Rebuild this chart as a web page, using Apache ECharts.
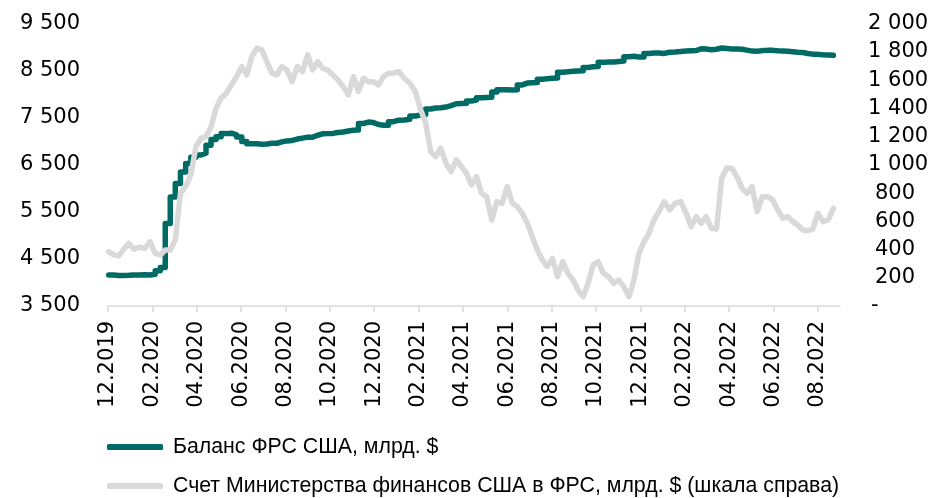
<!DOCTYPE html>
<html>
<head>
<meta charset="utf-8">
<script src="https://cdn.jsdelivr.net/npm/echarts@6/dist/echarts.min.js"></script>
<style>
html,body{margin:0;padding:0;background:#fff;}
#c{width:933px;height:498px;}
</style>
</head>
<body>
<div id="c"></div>
<script>
// Weekly observation dates
const weeks = [
'2020-01-01','2020-01-08','2020-01-15','2020-01-22','2020-01-29','2020-02-05','2020-02-12','2020-02-19','2020-02-26',
'2020-03-04','2020-03-11','2020-03-18','2020-03-25','2020-04-01','2020-04-08','2020-04-15','2020-04-22','2020-04-29',
'2020-05-06','2020-05-13','2020-05-20','2020-05-27','2020-06-03','2020-06-10','2020-06-17','2020-06-24',
'2020-07-01','2020-07-08','2020-07-15','2020-07-22','2020-07-29','2020-08-05','2020-08-12','2020-08-19','2020-08-26',
'2020-09-02','2020-09-09','2020-09-16','2020-09-23','2020-09-30','2020-10-07','2020-10-14','2020-10-21','2020-10-28',
'2020-11-04','2020-11-11','2020-11-18','2020-11-25','2020-12-02','2020-12-09','2020-12-16','2020-12-23','2020-12-30',
'2021-01-06','2021-01-13','2021-01-20','2021-01-27','2021-02-03','2021-02-10','2021-02-17','2021-02-24',
'2021-03-03','2021-03-10','2021-03-17','2021-03-24','2021-03-31','2021-04-07','2021-04-14','2021-04-21','2021-04-28',
'2021-05-05','2021-05-12','2021-05-19','2021-05-26','2021-06-02','2021-06-09','2021-06-16','2021-06-23','2021-06-30',
'2021-07-07','2021-07-14','2021-07-21','2021-07-28','2021-08-04','2021-08-11','2021-08-18','2021-08-25',
'2021-09-01','2021-09-08','2021-09-15','2021-09-22','2021-09-29','2021-10-06','2021-10-13','2021-10-20','2021-10-27',
'2021-11-03','2021-11-10','2021-11-17','2021-11-24','2021-12-01','2021-12-08','2021-12-15','2021-12-22','2021-12-29',
'2022-01-05','2022-01-12','2022-01-19','2022-01-26','2022-02-02','2022-02-09','2022-02-16','2022-02-23',
'2022-03-02','2022-03-09','2022-03-16','2022-03-23','2022-03-30','2022-04-06','2022-04-13','2022-04-20','2022-04-27',
'2022-05-04','2022-05-11','2022-05-18','2022-05-25','2022-06-01','2022-06-08','2022-06-15','2022-06-22','2022-06-29',
'2022-07-06','2022-07-13','2022-07-20','2022-07-27','2022-08-03','2022-08-10','2022-08-17','2022-08-24','2022-08-31',
'2022-09-07','2022-09-14','2022-09-21'
];

// Fed balance sheet, bn $
const fedBalance = [
4160,4150,4150,4152,4158,4160,4162,4160,4175,
4250,4321,5256,5820,6105,6351,6530,6660,6710,
6750,6920,7040,7100,7165,7175,7140,7095,
7000,6950,6950,6940,6945,6960,6960,6990,7010,
7020,7050,7070,7090,7090,7130,7160,7165,7170,
7190,7200,7220,7235,7240,7380,7410,7400,7360,
7345,7345,7420,7450,7455,7470,7540,7560,
7570,7690,7710,7715,7730,7760,7800,7805,7810,
7860,7880,7930,7935,7940,8050,8100,8100,8095,
8100,8200,8240,8245,8250,8320,8334,8340,
8345,8470,8480,8490,8495,8500,8570,8585,8590,
8680,8690,8690,8700,8710,8800,8810,8795,8795,
8870,8880,8880,8870,8895,8900,8910,8920,
8925,8930,8970,8965,8950,8960,8985,8975,8965,
8965,8960,8940,8920,8915,8930,8935,8935,8925,
8920,8915,8905,8895,8890,8870,8855,8850,8840,
8835,8830,8825
];

// Treasury General Account at the Fed, bn $ (right scale)
const tgaBalance = [
385,362,355,402,444,402,416,409,456,
373,362,397,397,468,799,846,929,1130,
1188,1200,1271,1401,1472,1508,1567,1626,
1697,1638,1768,1827,1815,1732,1650,1638,1697,
1673,1590,1697,1661,1780,1673,1732,1685,1673,
1638,1602,1555,1496,1626,1520,1614,1590,1590,
1567,1626,1650,1650,1661,1614,1579,1520,
1390,1295,1094,1059,1118,1012,952,1035,988,
941,858,917,799,775,610,740,728,846,
728,704,657,586,491,397,326,279,
338,208,315,232,184,113,66,161,291,
315,232,208,161,184,137,66,184,373,
456,515,610,670,740,681,728,740,
657,562,633,586,633,551,545,905,980,
975,917,835,799,846,669,775,775,752,
681,622,633,598,574,539,534,545,657,
598,610,692
];

const tickDates = ['2019-12-31','2020-02-29','2020-04-30','2020-06-30','2020-08-31','2020-10-31','2020-12-31',
'2021-02-28','2021-04-30','2021-06-30','2021-08-31','2021-10-31','2021-12-31',
'2022-02-28','2022-04-30','2022-06-30','2022-08-31'];
const tickLabels = ['12.2019','02.2020','04.2020','06.2020','08.2020','10.2020','12.2020',
'02.2021','04.2021','06.2021','08.2021','10.2021','12.2021',
'02.2022','04.2022','06.2022','08.2022'];
const axisStart = '2019-12-31';
const axisEnd = '2022-09-30';

const seriesNames = ['Баланс ФРС США, млрд. $', 'Счет Министерства финансов США в ФРС, млрд. $ (шкала справа)'];

function monthPos(s){
  const p = s.split('-').map(Number);
  const dim = new Date(p[0], p[1], 0).getDate();
  return (p[0]-2020)*12 + (p[1]-1) + p[2]/dim;
}
const tickPos = tickDates.map(monthPos);
function fmtThousands(v){
  if (v >= 1000) { const r = v % 1000; return Math.floor(v/1000) + ' ' + String(r).padStart(3,'0'); }
  return String(v);
}

const chart = echarts.init(document.getElementById('c'), null, {renderer:'canvas'});
const numFont = 'DejaVu Sans';
chart.setOption({
  animation: false,
  backgroundColor: '#ffffff',
  grid: {left: 108, right: 93, top: 23.8, bottom: 192, containLabel: false},
  legend: {
    orient: 'vertical', left: 107, top: 436, padding: 0,
    itemGap: 17, itemWidth: 56, itemHeight: 6, icon: 'roundRect',
    textStyle: {fontFamily: 'Liberation Sans', fontSize: 21.3, color: '#000', lineHeight: 22, padding: [0,0,0,5]},
    data: seriesNames
  },
  xAxis: {
    type: 'value', min: monthPos(axisStart), max: monthPos(axisEnd),
    splitLine: {show: false},
    axisLine: {show: true, lineStyle: {color: '#d9d9d9', width: 1.5}},
    axisTick: {show: true, length: 6, lineStyle: {color: '#d9d9d9', width: 1.5}, customValues: tickPos},
    axisLabel: {
      customValues: tickPos, rotate: 90, margin: 15,
      fontFamily: numFont, fontSize: 21, color: '#000',
      formatter: function(v){ const i = tickPos.findIndex(t => Math.abs(t - v) < 1e-6); return i >= 0 ? tickLabels[i] : ''; }
    }
  },
  yAxis: [
    {
      type: 'value', min: 3500, max: 9500, interval: 1000, position: 'left',
      splitLine: {show: false}, axisLine: {show: false}, axisTick: {show: false},
      axisLabel: {margin: 28, fontFamily: numFont, fontSize: 21, color: '#000', formatter: v => fmtThousands(v)}
    },
    {
      type: 'value', min: 0, max: 2000, interval: 200, position: 'right',
      splitLine: {show: false}, axisLine: {show: false}, axisTick: {show: false},
      axisLabel: {
        margin: 28, fontFamily: numFont, fontSize: 21, color: '#000',
        formatter: function(v){ if (v === 0) return '{c|-}'; if (v < 1000) return '{b|' + v + '}'; return '{a|' + fmtThousands(v) + '}'; },
        rich: {
          a: {fontFamily: numFont, fontSize: 21, color: '#000'},
          b: {fontFamily: numFont, fontSize: 21, color: '#000', padding: [0,0,0,7]},
          c: {fontFamily: numFont, fontSize: 21, color: '#000', padding: [0,0,0,3]}
        }
      }
    }
  ],
  series: [
    {
      name: seriesNames[0], type: 'line', yAxisIndex: 0, step: 'end',
      showSymbol: false, silent: true, color: '#006b64',
      lineStyle: {color: '#006b64', width: 5.5, cap: 'round', join: 'round'},
      data: weeks.map((d, i) => [monthPos(d), fedBalance[i]])
    },
    {
      name: seriesNames[1], type: 'line', yAxisIndex: 1,
      showSymbol: false, silent: true, color: '#d9d9d9',
      lineStyle: {color: '#d9d9d9', width: 5.5, cap: 'round', join: 'round'},
      data: weeks.map((d, i) => [monthPos(d), tgaBalance[i]])
    }
  ]
});
</script>
</body>
</html>
